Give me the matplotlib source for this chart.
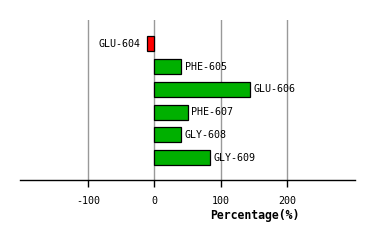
import numpy as np
from matplotlib import pyplot as plt

# residues and their percentage values
residues = ['GLU-604', 'PHE-605', 'GLU-606', 'PHE-607', 'GLY-608', 'GLY-609']
values = [-11.5, 40.5, 144, 51, 40.5, 84]
ticks = [-100, 0, 100, 200]

plt.rcParams['font.family'] = ['DejaVu Sans Mono']

fig = plt.figure(figsize=(3.74, 2.40), dpi=100)
# axes area in pixels: x 20..355, y 20..180
ax = fig.add_axes([20 / 374, 1 - 180.3 / 240, 335 / 374, 160.3 / 240])

colors = ['#ff0000' if v < 0 else '#00b000' for v in values]
ypos = np.arange(len(residues))
ax.barh(ypos, values, height=0.66, color=colors, edgecolor='black', linewidth=0.9, zorder=3)

for y, v, name in zip(ypos, values, residues):
    if v < 0:
        ax.text(v - 9, y, name, ha='right', va='center', fontsize=7.2)
    else:
        ax.text(v + 5, y, name, ha='left', va='center', fontsize=7.2)

ax.set_xlim(-202, 302)
ax.set_ylim(5.99, -1.04)
ax.set_xticks(ticks)
ax.set_xticklabels([str(t) for t in ticks], fontsize=7.2)
ax.set_yticks([])
ax.xaxis.grid(True, color='#999999', linewidth=1, zorder=0)
ax.tick_params(axis='x', length=5, width=1, pad=6)
for s in ['top', 'right', 'left']:
    ax.spines[s].set_visible(False)
ax.spines['bottom'].set_linewidth(1)

fig.text(254.7 / 374, 1 - 215 / 240, 'Percentage(%)', ha='center', va='center',
         fontsize=8.3, fontweight='bold')

plt.savefig('out.png', dpi=100)
